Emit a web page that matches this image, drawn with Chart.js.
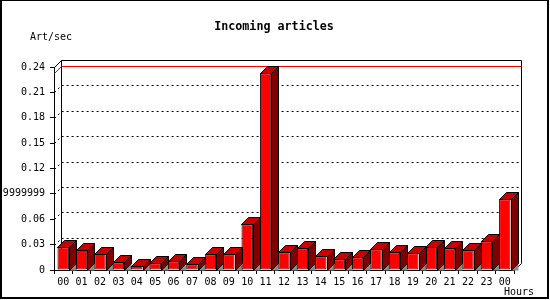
<!DOCTYPE html>
<html>
<head>
<meta charset="utf-8">
<script src="https://cdn.jsdelivr.net/npm/chart.js@4"></script>
<style>
  html, body { margin: 0; padding: 0; background: #fff; }
  canvas { display: block; }
</style>
</head>
<body>
<canvas id="articlesChart" width="550" height="300"></canvas>
<script>
// hours of the day (last one wraps to 00)
const hours = ['00', '01', '02', '03', '04', '05', '06', '07', '08', '09', '10', '11',
  '12', '13', '14', '15', '16', '17', '18', '19', '20', '21', '22', '23', '00'];

// incoming articles per second
const articlesPerSec = [0.0268, 0.0236, 0.0189, 0.0091, 0.0047, 0.0079, 0.0103, 0.0067,
  0.0185, 0.0185, 0.054, 0.2325, 0.0209, 0.0256, 0.0162, 0.0126, 0.015, 0.0245,
  0.0209, 0.0197, 0.0276, 0.0256, 0.0233, 0.0339, 0.0836];

const yTickValues = [0, 0.03, 0.06, 0.09, 0.12, 0.15, 0.18, 0.21, 0.24];
const yTickLabels = ['0', '0.03', '0.06', '0.09999999', '0.12', '0.15', '0.18', '0.21', '0.24'];

const monoFont = 'DejaVu Sans Mono';
const DEPTH = 7; // 3d offset in px

function px(v) {
  return Math.round(v) + 0.5;
}

// draws back wall, dotted grid, max line and the 3d bar faces
const threeDPlugin = {
  id: 'threeD',
  beforeDatasetsDraw(chart) {
    const ctx = chart.ctx;
    const area = chart.chartArea;
    const y = chart.scales.y;
    const L = px(area.left), R = px(area.right), B = px(area.bottom), T = px(area.top);
    const d = DEPTH;

    ctx.save();
    ctx.lineWidth = 1;
    ctx.strokeStyle = '#000';

    // back wall frame
    ctx.beginPath();
    ctx.moveTo(L, T);
    ctx.lineTo(L + d, T - d);
    ctx.lineTo(R + d, T - d);
    ctx.lineTo(R + d, B - d);
    ctx.lineTo(R, B);
    ctx.moveTo(L + d, T - d);
    ctx.lineTo(L + d, B - d);
    ctx.stroke();

    // dotted grid lines on the back wall
    ctx.setLineDash([2, 3]);
    yTickValues.forEach(v => {
      if (v === 0 || v === y.max) return;
      const py = px(y.getPixelForValue(v));
      ctx.beginPath();
      ctx.moveTo(L, py);
      ctx.lineTo(L + d, py - d);
      ctx.lineTo(R + d, py - d);
      ctx.stroke();
    });
    ctx.setLineDash([]);

    // red line at the max value
    const maxVal = Math.max(...articlesPerSec);
    const my = px(y.getPixelForValue(maxVal));
    ctx.strokeStyle = '#ff0000';
    ctx.beginPath();
    ctx.moveTo(L, my);
    ctx.lineTo(L + d, my - d);
    ctx.lineTo(R + d, my - d);
    ctx.stroke();

    // grey shadow on the floor next to each bar
    const meta = chart.getDatasetMeta(0);
    ctx.fillStyle = '#8c8c8c';
    meta.data.forEach(bar => {
      const right = px(bar.x + bar.width / 2);
      const base = px(bar.base);
      ctx.beginPath();
      ctx.moveTo(right, base);
      ctx.lineTo(right + d, base - d);
      ctx.lineTo(right + d, base);
      ctx.closePath();
      ctx.fill();
    });
    ctx.restore();
  },
  afterDatasetsDraw(chart) {
    const ctx = chart.ctx;
    const d = DEPTH;
    const meta = chart.getDatasetMeta(0);

    ctx.save();
    ctx.lineWidth = 1;
    ctx.strokeStyle = '#000';
    meta.data.forEach(bar => {
      const left = px(bar.x - bar.width / 2);
      const right = px(bar.x + bar.width / 2);
      const top = px(bar.y);
      const base = px(bar.base);

      // top face
      ctx.fillStyle = '#c80000';
      ctx.beginPath();
      ctx.moveTo(left, top);
      ctx.lineTo(left + d, top - d);
      ctx.lineTo(right + d, top - d);
      ctx.lineTo(right, top);
      ctx.closePath();
      ctx.fill();
      ctx.stroke();

      // side face
      ctx.fillStyle = '#800000';
      ctx.beginPath();
      ctx.moveTo(right, top);
      ctx.lineTo(right + d, top - d);
      ctx.lineTo(right + d, base - d);
      ctx.lineTo(right, base);
      ctx.closePath();
      ctx.fill();
      ctx.stroke();
    });
    ctx.restore();
  },
  afterDraw(chart) {
    const ctx = chart.ctx;
    ctx.save();
    ctx.fillStyle = '#000';
    ctx.textBaseline = 'middle';

    // title, centred on the whole image
    ctx.font = 'bold 11.7px "' + monoFont + '"';
    ctx.textAlign = 'center';
    ctx.fillText('Incoming articles', 274, 27);

    ctx.font = '10px "' + monoFont + '"';
    ctx.textAlign = 'left';
    ctx.fillText('Art/sec', 30, 37);
    ctx.fillText('Hours', 504, 292);

    // outer frame
    ctx.strokeStyle = '#000';
    ctx.lineWidth = 2;
    ctx.strokeRect(1, 0, 547, 298);
    ctx.restore();
  }
};

const ctx = document.getElementById('articlesChart').getContext('2d');
new Chart(ctx, {
  type: 'bar',
  data: {
    labels: hours,
    datasets: [{
      label: 'Art/sec',
      data: articlesPerSec,
      backgroundColor: '#ff0000',
      borderColor: '#000',
      borderWidth: 1,
      borderSkipped: false,
      categoryPercentage: 1,
      barPercentage: 0.62
    }]
  },
  options: {
    responsive: false,
    animation: false,
    devicePixelRatio: 1,
    layout: {
      padding: { left: 0, right: 36, top: 67, bottom: 0 }
    },
    plugins: {
      legend: { display: false },
      tooltip: { enabled: false },
      title: { display: false }
    },
    scales: {
      x: {
        offset: true,
        afterFit: scale => { scale.height = 30; },
        grid: { offset: true, drawOnChartArea: false, tickLength: 4, color: '#000' },
        border: { color: '#000' },
        ticks: {
          color: '#000',
          padding: 2,
          maxRotation: 0,
          autoSkip: false,
          font: { family: monoFont, size: 10 }
        }
      },
      y: {
        min: 0,
        max: 0.24,
        afterFit: scale => { scale.width = 54; },
        afterBuildTicks: scale => {
          scale.ticks = yTickValues.map(v => ({ value: v }));
        },
        grid: { drawOnChartArea: false, tickLength: 4, color: '#000' },
        border: { color: '#000' },
        ticks: {
          color: '#000',
          padding: 5,
          font: { family: monoFont, size: 10 },
          callback: (value, index) => yTickLabels[index]
        }
      }
    }
  },
  plugins: [threeDPlugin]
});
</script>
</body>
</html>
